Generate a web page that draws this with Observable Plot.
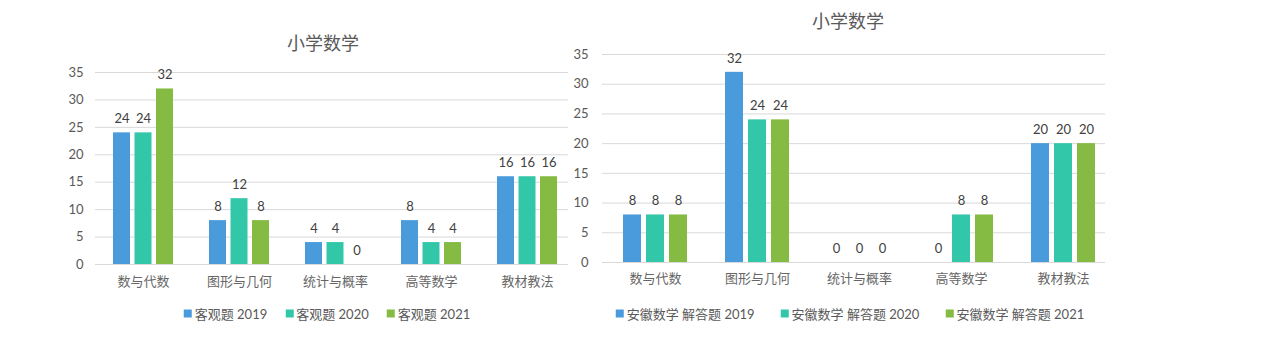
<!DOCTYPE html>
<html><head><meta charset="utf-8">
<script src="https://cdn.jsdelivr.net/npm/d3@7"></script>
<script src="https://cdn.jsdelivr.net/npm/@observablehq/plot@0.6"></script>
<style>
body{margin:0;background:#fff;font-family:Lato,"Noto Sans CJK SC",sans-serif;}
#wrap{position:relative;width:1282px;height:341px;overflow:hidden;background:#fff}
#wrap svg{position:absolute;top:0;overflow:visible}
.title{position:absolute;font-size:18px;color:#595959;transform:translate(-50%,-50%);white-space:nowrap}
.legend{position:absolute;transform:translate(-50%,-50%);font-size:13px;color:#595959;white-space:nowrap;display:flex;align-items:center}
.legend .item{display:flex;align-items:center}
.legend .sw{display:inline-block;width:8px;height:8px;margin-right:3px}
</style></head>
<body><div id="wrap"></div>
<script>
const categories = ["数与代数","图形与几何","统计与概率","高等数学","教材教法"];
const yTicks = [0,5,10,15,20,25,30,35];
const colors = ["#4A9BDC","#33C7AA","#85BB42"];
const chartTitle = "小学数学";

const leftSeries = ["客观题 2019","客观题 2020","客观题 2021"];
const left2019 = [24,8,4,8,16];
const left2020 = [24,12,4,4,16];
const left2021 = [32,8,0,4,16];

const rightSeries = ["安徽数学 解答题 2019","安徽数学 解答题 2020","安徽数学 解答题 2021"];
const right2019 = [8,32,0,0,20];
const right2020 = [8,24,0,8,20];
const right2021 = [8,24,0,8,20];

function chart(cfg){
  const marks = [Plot.ruleY(yTicks,{stroke:"#d9d9d9"})];
  cfg.values.forEach((vals,i)=>{
    const data = categories.map((c,j)=>({cat:c,value:vals[j]}));
    const dx = (i-1)*cfg.step;
    marks.push(Plot.barY(data,{x:"cat",y:"value",fill:colors[i],dx,insetLeft:cfg.inset,insetRight:cfg.inset}));
    marks.push(Plot.text(data,{x:"cat",y:"value",text:d=>String(d.value),dx,dy:-14,fill:"#404040",fontSize:13}));
  });
  marks.push(Plot.axisY({ticks:yTicks,tickSize:0,tickPadding:cfg.yPad,fontSize:13,fill:"#595959",label:null}));
  marks.push(Plot.axisX({tickSize:0,tickPadding:cfg.xPad,fontSize:13,fill:"#666666",label:null}));
  const svg = Plot.plot({
    width:cfg.width,height:300,
    marginLeft:cfg.ml,marginRight:0,marginTop:cfg.top,marginBottom:300-cfg.bottom,
    x:{type:"band",domain:categories,range:cfg.xRange,padding:0},
    y:{domain:[0,35]},
    style:{fontFamily:'Lato,"Noto Sans CJK SC",sans-serif',color:"#595959",background:"transparent"},
    marks
  });
  svg.style.left = cfg.left+"px";
  return svg;
}

function legend(series,cx,cy,gap){
  const d = document.createElement("div");
  d.className="legend";d.style.left=cx+"px";d.style.top=cy+"px";
  series.forEach((s,i)=>{
    const it=document.createElement("span");it.className="item";
    it.style.margin="0 "+gap+"px";
    const sw=document.createElement("span");sw.className="sw";sw.style.background=colors[i];
    it.appendChild(sw);it.appendChild(document.createTextNode(s));d.appendChild(it);
  });
  return d;
}
function title(t,cx,cy){
  const d=document.createElement("div");d.className="title";d.textContent=t;
  d.style.left=cx+"px";d.style.top=cy+"px";return d;
}

const wrap=document.getElementById("wrap");
wrap.appendChild(chart({values:[left2019,left2020,left2021],left:0,width:568,ml:95,top:72,bottom:264,
  xRange:[95,575],step:21.5,inset:39.5,yPad:12,xPad:12}));
wrap.appendChild(chart({values:[right2019,right2020,right2021],left:560,width:545,ml:42,top:54,bottom:262,
  xRange:[42,555],step:23,inset:42,yPad:14,xPad:11}));
wrap.appendChild(title(chartTitle,323,42));
wrap.appendChild(title(chartTitle,848,20));
wrap.appendChild(legend(leftSeries,327,313,9));
wrap.appendChild(legend(rightSeries,850,313,13));
</script></body></html>
